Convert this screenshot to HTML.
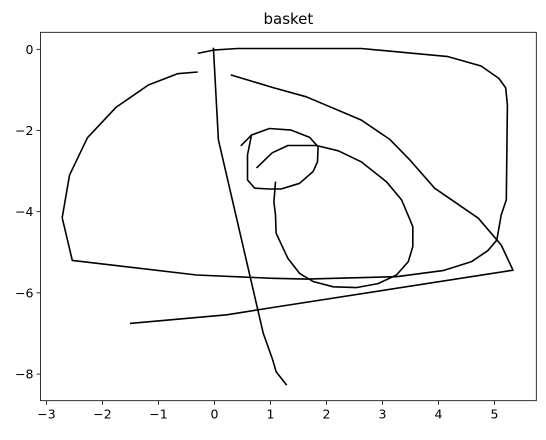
<!DOCTYPE html>
<html><head><meta charset="utf-8"><style>
body{margin:0;background:#fff;}
svg text{font-family:"DejaVu Sans","Liberation Sans",sans-serif;fill:#000;}
</style></head><body>
<svg id="chart" width="546" height="435" xmlns="http://www.w3.org/2000/svg"></svg>
<script>
const xTicks=[-3,-2,-1,0,1,2,3,4,5];
const yTicks=[0,-2,-4,-6,-8];
const strokeOuterX=[-0.3,-0.02,0.41,2.62,4.17,4.76,5.08,5.2,5.23,5.21,5.12,5.04,4.88,4.59,4.08,3.25,1.64,1.04,-0.32,-2.54,-2.72,-2.59,-2.27,-1.76,-1.18,-0.66,-0.3];
const strokeOuterY=[-0.1,-0.02,0.02,0.02,-0.18,-0.41,-0.72,-0.95,-1.37,-3.71,-4.08,-4.70,-4.96,-5.23,-5.45,-5.6,-5.66,-5.64,-5.56,-5.2,-4.15,-3.1,-2.18,-1.43,-0.88,-0.6,-0.56];
const strokeHandleX=[-0.02,0.07,0.87,1.04,1.1,1.29];
const strokeHandleY=[0.04,-2.23,-6.99,-7.65,-7.94,-8.27];
const strokeArcX=[0.29,1.04,1.64,2.62,3.13,3.49,3.93,4.71,5.12,5.33,1.04,0.22,-1.51];
const strokeArcY=[-0.63,-0.94,-1.17,-1.74,-2.22,-2.73,-3.42,-4.16,-4.82,-5.44,-6.36,-6.54,-6.75];
const strokeSmallX=[0.47,0.66,0.98,1.37,1.7,1.85,1.84,1.76,1.52,1.19,0.98,0.72,0.59,0.59,0.66];
const strokeSmallY=[-2.38,-2.11,-1.95,-1.99,-2.17,-2.4,-2.77,-3.01,-3.3,-3.44,-3.44,-3.42,-3.22,-2.6,-2.11];
const strokeSpiralX=[0.75,1.03,1.31,1.82,2.21,2.62,3.07,3.34,3.49,3.54,3.54,3.46,3.25,2.92,2.53,2.12,1.76,1.52,1.31,1.1,1.09,1.06,1.09];
const strokeSpiralY=[-2.92,-2.55,-2.37,-2.37,-2.5,-2.77,-3.26,-3.71,-4.2,-4.37,-4.86,-5.23,-5.56,-5.77,-5.87,-5.85,-5.72,-5.52,-5.15,-4.53,-4.08,-3.76,-3.26];

const L=40.5,R=536.3,T=32.3,B=400.7;
const xMin=-3.107,xMax=5.746,yMin=-8.655,yMax=0.419;
const sx=v=>L+(v-xMin)/(xMax-xMin)*(R-L);
const sy=v=>B-(v-yMin)/(yMax-yMin)*(B-T);
const svg=document.getElementById('chart');
const NS='http://www.w3.org/2000/svg';
function mk(tag,attrs){const e=document.createElementNS(NS,tag);for(const k in attrs)e.setAttribute(k,attrs[k]);svg.appendChild(e);return e;}

const title=mk('text',{x:(L+R)/2,y:24,'text-anchor':'middle','font-size':'15'});
title.textContent='basket';



xTicks.forEach(t=>{
  const x=sx(t);
  const tk=mk('line',{x1:x,x2:x,y1:B,y2:B+4,stroke:'#000','stroke-width':0.8});
  
  
  const lb=mk('text',{x:x,y:B+18,'text-anchor':'middle','font-size':'12.5'});
  lb.textContent=t<0?'\u2212'+Math.abs(t):String(t);
  
  
});
yTicks.forEach(t=>{
  const y=sy(t);
  const tk=mk('line',{x1:L-4,x2:L,y1:y,y2:y,stroke:'#000','stroke-width':0.8});
  
  
  const lb=mk('text',{x:L-7,y:y+4.5,'text-anchor':'end','font-size':'12.5'});
  lb.textContent=t<0?'\u2212'+Math.abs(t):String(t);
  
  
});

function drawStroke(xs,ys,name){
  const d=xs.map((x,i)=>(i?'L':'M')+sx(x).toFixed(1)+','+sy(ys[i]).toFixed(1)).join(' ');
  const p=mk('path',{d:d,fill:'none',stroke:'#000','stroke-width':1.6,'stroke-linejoin':'round'});
  
  
}
drawStroke(strokeOuterX,strokeOuterY,'stroke-outer-basket');
drawStroke(strokeHandleX,strokeHandleY,'stroke-handle');
drawStroke(strokeArcX,strokeArcY,'stroke-inner-arc');
drawStroke(strokeSmallX,strokeSmallY,'stroke-small-spiral');
drawStroke(strokeSpiralX,strokeSpiralY,'stroke-large-spiral');

const frame=mk('rect',{x:L,y:T,width:R-L,height:B-T,fill:'none',stroke:'#000','stroke-width':0.8});


</script>
</body></html>
